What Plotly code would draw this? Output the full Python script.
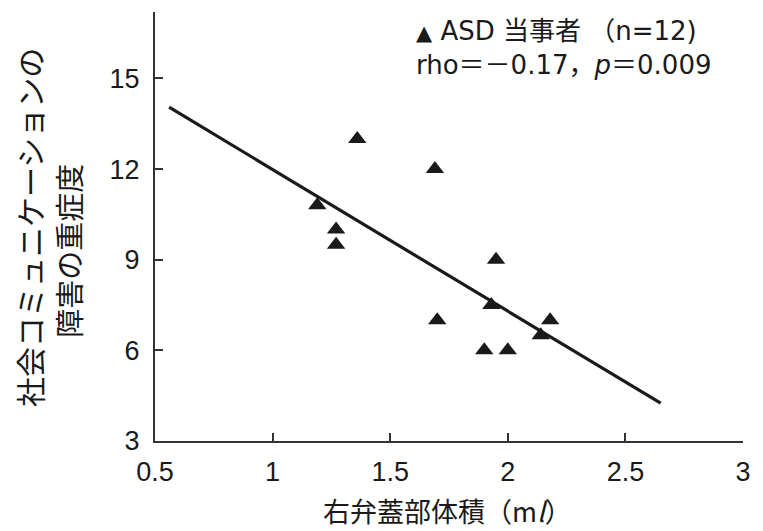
import plotly.graph_objects as go

# Right opercular volume (ml) vs. social communication impairment severity
volume_ml = [1.19, 1.36, 1.27, 1.27, 1.69, 1.70, 1.95, 1.93, 1.90, 2.00, 2.18, 2.14]
severity = [10.8, 13.0, 10.0, 9.5, 12.0, 7.0, 9.0, 7.5, 6.0, 6.0, 7.0, 6.5]

# Regression line end points
fit_x = [0.56, 2.65]
fit_y = [14.05, 4.25]

x_ticks = [0.5, 1, 1.5, 2, 2.5, 3]
x_tick_text = ["0.5", "1", "1.5", "2", "2.5", "3"]
y_ticks = [3, 6, 9, 12, 15]

LATIN = "Liberation Sans, Arial, Noto Sans CJK JP"
WIDE = "DejaVu Sans, Noto Sans CJK JP"
CJK = "Noto Sans CJK JP, Liberation Sans"
INK = "#1a1a1a"

W, H = 763, 531
M = dict(l=155, r=15, t=12, b=90)


def px_to_paper(px, py):
    """Convert a pixel position on the page to paper coordinates."""
    return ((px - M["l"]) / (W - M["l"] - M["r"]),
            (H - M["b"] - py) / (H - M["t"] - M["b"]))


fig = go.Figure()
fig.add_trace(go.Scatter(
    x=fit_x, y=fit_y, mode="lines",
    line=dict(color=INK, width=3.2), showlegend=False, hoverinfo="skip",
))
fig.add_trace(go.Scatter(
    x=volume_ml, y=severity, mode="markers",
    marker=dict(symbol="triangle-up", size=16, color=INK),
    showlegend=False,
))

axis_style = dict(
    showgrid=False, zeroline=False, showline=True, linecolor="#333", linewidth=2,
    ticks="inside", ticklen=8, tickwidth=1.5, tickcolor="#333",
    tickfont=dict(family=LATIN, size=27, color=INK),
)
fig.update_xaxes(range=[0.5, 3], tickvals=x_ticks, ticktext=x_tick_text,
                 ticklabelstandoff=6, **axis_style)
fig.update_yaxes(range=[3, 17.2], tickvals=y_ticks, ticklabelstandoff=8, **axis_style)


def note(text, px, py, family, size, angle=0, xanchor="left"):
    x, y = px_to_paper(px, py)
    return dict(text=text, x=x, y=y, xref="paper", yref="paper", showarrow=False,
                xanchor=xanchor, yanchor="middle", textangle=angle,
                font=dict(family=family, size=size, color=INK))


annotations = [
    note('<span style="font-size:21px">▲</span> ASD 当事者 （n=12)', 416, 31, WIDE, 26),
    note("rho＝－0.17，<i>p</i>＝0.009", 416, 65, WIDE, 26),
    note("右弁蓋部体積（m<i>l</i>）", 450, 510, CJK, 27, xanchor="center"),
    note("社会コミュニケーションの", 28, 228, CJK, 30, angle=-90, xanchor="center"),
    note("障害の重症度", 67, 251, CJK, 29, angle=-90, xanchor="center"),
]

fig.update_layout(
    width=W, height=H,
    margin=M,
    paper_bgcolor="white", plot_bgcolor="white",
    annotations=annotations,
)

fig.write_html("out.html")
